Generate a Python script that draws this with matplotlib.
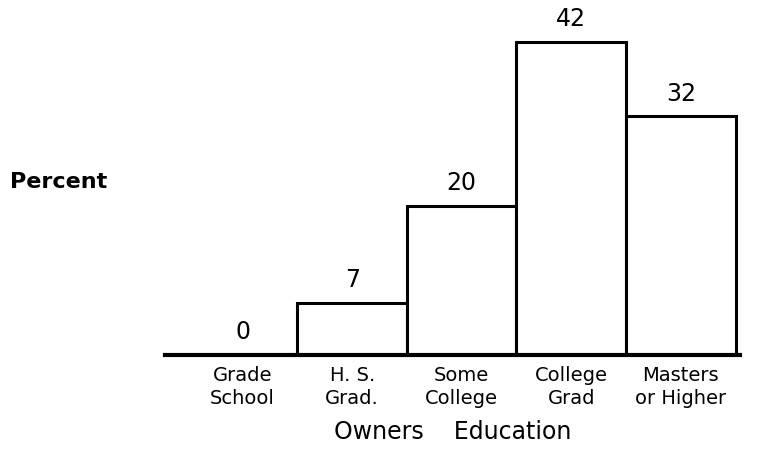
import matplotlib.pyplot as plt

categories = ['Grade\nSchool', 'H. S.\nGrad.', 'Some\nCollege', 'College\nGrad', 'Masters\nor Higher']
percent = [0, 7, 20, 42, 32]

plt.rcParams['font.family'] = 'DejaVu Sans'

fig = plt.figure(figsize=(7.7, 4.55), dpi=100)
ax = fig.add_axes([0.214, 0.22, 0.747, 0.78])

x = range(len(categories))
ax.bar(x, percent, width=1.0, color='white', edgecolor='black', linewidth=2.2)

for i, v in enumerate(percent):
    ax.text(i, v + 1.4, str(v), ha='center', va='bottom', fontsize=17)

ax.set_xlim(-0.71, 4.54)
ax.set_ylim(0, 47.6)
ax.set_xticks(list(x))
ax.set_xticklabels(categories, fontsize=14, linespacing=1.25)
ax.tick_params(axis='x', length=0, pad=8)
ax.set_yticks([])
for s in ['top', 'right', 'left']:
    ax.spines[s].set_visible(False)
ax.spines['bottom'].set_linewidth(3)

ax.set_xlabel('Owners    Education', fontsize=17, labelpad=9)
fig.text(0.013, 0.6, 'Percent', fontsize=16, fontweight='bold', va='center')

fig.savefig('out.png', dpi=100, facecolor='white')
